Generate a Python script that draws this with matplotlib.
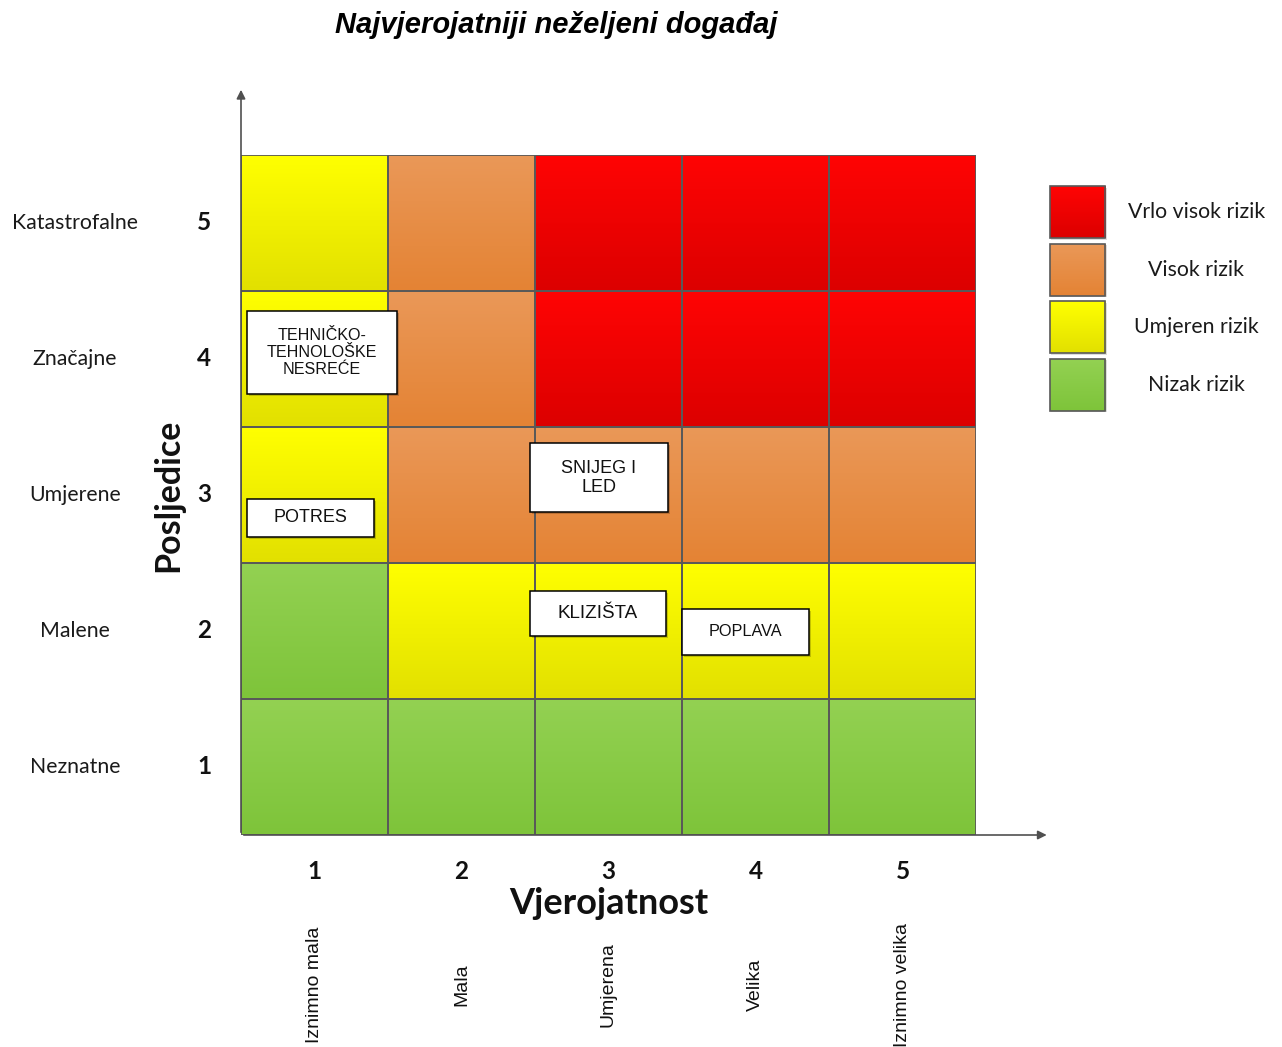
import matplotlib
matplotlib.use("Agg")
import matplotlib.pyplot as plt
import numpy as np
from matplotlib.patches import Rectangle

# ---------------- data ----------------
title = "Najvjerojatniji neželjeni događaj"
prob_levels = [1, 2, 3, 4, 5]
prob_labels = ["Iznimno mala", "Mala", "Umjerena", "Velika", "Iznimno velika"]
cons_levels = [1, 2, 3, 4, 5]
cons_labels = ["Neznatne", "Malene", "Umjerene", "Značajne", "Katastrofalne"]
x_title = "Vjerojatnost"
y_title = "Posljedice"
# risk class per cell; rows = consequence 1..5, columns = probability 1..5
risk_matrix = [
    [0, 0, 0, 0, 0],
    [0, 1, 1, 1, 1],
    [1, 2, 2, 2, 2],
    [1, 2, 3, 3, 3],
    [1, 2, 3, 3, 3],
]
risk_names = ["Nizak rizik", "Umjeren rizik", "Visok rizik", "Vrlo visok rizik"]
events = ["TEHNIČKO-\nTEHNOLOŠKE\nNESREĆE", "POTRES", "SNIJEG I\nLED", "KLIZIŠTA", "POPLAVA"]
event_prob = [1, 1, 3, 3, 4]
event_cons = [4, 3, 3, 2, 2]

# ---------------- styles ----------------
top_col = {3: (255, 4, 4), 2: (234, 152, 88), 1: (255, 255, 0), 0: (147, 209, 82)}
bot_col = {3: (220, 0, 0), 2: (228, 131, 52), 1: (226, 224, 0), 0: (126, 196, 58)}
# box geometry relative to cell centre: dx, dy, w, h, fontsize
box_geom = [
    (0.05, 0.048, 1.02, 0.61, 11.6),
    (-0.027, -0.169, 0.864, 0.28, 13),
    (-0.065, 0.128, 0.939, 0.507, 13),
    (-0.071, 0.128, 0.925, 0.331, 13.6),
    (-0.068, -0.007, 0.864, 0.338, 11.7),
]
ARIAL = "Liberation Sans"
CAL = "Lato"
EDGE = "#595959"


def grad(cls, n=100):
    t = np.linspace(0, 1, n)[:, None]
    a = np.array(top_col[cls]) / 255.0
    b = np.array(bot_col[cls]) / 255.0
    return a * (1 - t) + b * t


fig = plt.figure(figsize=(12.82, 10.47), dpi=100)
ax = fig.add_axes([241 / 1282, (1047 - 835) / 1047, 735 / 1282, 680 / 1047])

n = 100
img = np.zeros((5 * n, 5, 3))
for ri, cons in enumerate(sorted(cons_levels, reverse=True)):
    for ci, prob in enumerate(prob_levels):
        img[ri * n:(ri + 1) * n, ci, :] = grad(risk_matrix[cons - 1][prob - 1], n)
ax.imshow(img, extent=(0.5, 5.5, 0.5, 5.5), origin="upper", aspect="auto",
          interpolation="nearest")

# grid lines
for p in prob_levels:
    for c in cons_levels:
        ax.add_patch(Rectangle((p - 0.5, c - 0.5), 1, 1, fill=False,
                               edgecolor=EDGE, lw=1.3, zorder=3))

# axis arrows
arrow_kw = dict(arrowstyle="-|>", color="#505050", lw=1.2, mutation_scale=13)
ax.annotate("", xy=(0.5, 6.0), xytext=(0.5, 0.5), arrowprops=arrow_kw,
            annotation_clip=False, zorder=4)
ax.annotate("", xy=(6.0, 0.5), xytext=(0.5, 0.5), arrowprops=arrow_kw,
            annotation_clip=False, zorder=4)

# event boxes
for name, p, c, (dx, dy, w, h, fs) in zip(events, event_prob, event_cons, box_geom):
    cx, cy = p + dx, c + dy
    ax.add_patch(Rectangle((cx - w / 2 + 0.012, cy - h / 2 - 0.012), w, h,
                           facecolor="#00000030", edgecolor="none", zorder=5, clip_on=False))
    ax.add_patch(Rectangle((cx - w / 2, cy - h / 2), w, h, facecolor="white",
                           edgecolor="black", lw=1.1, zorder=6, clip_on=False))
    ax.text(cx, cy, name, ha="center", va="center", fontsize=fs, family=ARIAL,
            linespacing=1.15, zorder=7, color="#111111")

# y-axis labels
for c, lab in zip(cons_levels, cons_labels):
    ax.text(-0.629, c, lab, ha="center", va="center", fontsize=15.3, family=CAL,
            color="#1a1a1a", clip_on=False)
    ax.text(0.248, c, str(c), ha="center", va="center", fontsize=17.5, family=CAL,
            fontweight="bold", color="#111111", clip_on=False)
ax.text(0.003, 3.0, y_title, ha="center", va="center", rotation=90, fontsize=24.5,
        family=CAL, fontweight="bold", color="#111111")

# x-axis labels
for p, lab in zip(prob_levels, prob_labels):
    ax.text(p, 0.23, str(p), ha="center", va="center", fontsize=17.5, family=CAL,
            fontweight="bold", color="#111111")
    ax.text(p, -0.603, lab, ha="center", va="center", rotation=90, fontsize=14,
            family=ARIAL, color="#111111")
ax.text(3.0, -0.0, x_title, ha="center", va="center", fontsize=26, family=CAL,
        fontweight="bold", color="#111111")

# legend
leg_cls = [3, 2, 1, 0]
for i, cls in enumerate(leg_cls):
    top = 5.272 - i * 0.4235
    bottom = top - 0.382
    ax.add_patch(Rectangle((6.012, bottom - 0.012), 0.378, 0.382, facecolor="#00000022",
                           edgecolor="none", clip_on=False, zorder=2))
    im = ax.imshow(grad(cls, 60)[:, None, :], extent=(6.0, 6.378, bottom, top),
                   origin="upper", aspect="auto", zorder=3)
    im.set_clip_on(False)
    ax.add_patch(Rectangle((6.0, bottom), 0.378, 0.382, fill=False, edgecolor=EDGE,
                           lw=1.2, clip_on=False, zorder=4))
    ax.text(7.0, (top + bottom) / 2, risk_names[cls], ha="center", va="center",
            fontsize=15.3, family=CAL, color="#1a1a1a", clip_on=False)

ax.set_xlim(0.5, 5.5)
ax.set_ylim(0.5, 5.5)
ax.axis("off")

fig.text(556 / 1282, 1 - 25 / 1047, title, ha="center", va="center", fontsize=21,
         family=ARIAL, fontweight="bold", style="italic", color="black")

fig.savefig("out.png", dpi=100, facecolor="white")
